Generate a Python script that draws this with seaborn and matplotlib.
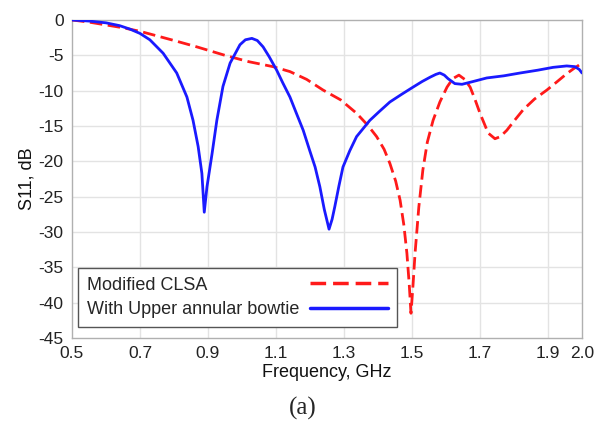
import numpy as np
import pandas as pd
import matplotlib
matplotlib.use("Agg")
import matplotlib.pyplot as plt
import seaborn as sns
from matplotlib.ticker import MultipleLocator, FixedLocator

blue_f = [0.50, 0.55, 0.60, 0.64, 0.671, 0.70, 0.729, 0.768, 0.808, 0.838, 0.856, 0.871, 0.882,
          0.889, 0.897, 0.912, 0.926, 0.944, 0.965, 0.994, 1.01, 1.029, 1.045, 1.062, 1.08,
          1.102, 1.12, 1.141, 1.16, 1.18, 1.20, 1.215, 1.229, 1.242, 1.256, 1.265, 1.273, 1.285,
          1.297, 1.317, 1.337, 1.376, 1.405, 1.435, 1.47, 1.503, 1.53, 1.553, 1.57, 1.582, 1.595,
          1.606, 1.626, 1.647, 1.68, 1.72, 1.77, 1.818, 1.87, 1.915, 1.955, 1.979, 1.992, 2.0]
blue_db = [0, -0.15, -0.4, -0.8, -1.3, -1.9, -2.8, -4.7, -7.5, -10.9, -14.2, -17.9, -21.7,
           -27.2, -23.6, -18.9, -14.2, -9.4, -6.1, -3.5, -2.8, -2.6, -2.9, -3.8, -5.2,
           -7.1, -8.9, -10.9, -13.2, -15.6, -18.6, -20.8, -23.6, -26.8, -29.6, -28.2, -26.4, -23.5,
           -20.8, -18.5, -16.5, -14.2, -12.9, -11.6, -10.5, -9.5, -8.7, -8.1, -7.7, -7.5, -7.8,
           -8.3, -9.0, -9.1, -8.7, -8.2, -7.9, -7.5, -7.1, -6.7, -6.5, -6.6, -7.0, -7.5]

red_f = [0.50, 0.55, 0.60, 0.65, 0.70, 0.80, 0.867, 0.95, 1.02, 1.091, 1.141, 1.19, 1.238,
         1.29, 1.337, 1.37, 1.396, 1.418, 1.435, 1.452, 1.465, 1.476, 1.485, 1.492, 1.497,
         1.503, 1.509, 1.52, 1.532, 1.545, 1.562, 1.582, 1.603, 1.62, 1.638, 1.655, 1.671,
         1.685, 1.70, 1.724, 1.744, 1.76, 1.779, 1.80, 1.827, 1.86, 1.897, 1.925, 1.955, 1.975,
         2.0]
red_db = [0, -0.3, -0.7, -1.1, -1.6, -2.9, -3.8, -5.0, -5.9, -6.6, -7.3, -8.4, -9.9,
          -11.3, -13.2, -14.9, -16.5, -18.3, -20.3, -22.8, -25.5, -29, -33, -37.5, -41.5,
          -37.5, -33, -26.5, -21.2, -17.3, -14.2, -11.6, -9.5, -8.3, -7.8, -8.4, -9.5,
          -11.2, -13.2, -16.0, -16.8, -16.5, -15.6, -14.3, -12.7, -11.2, -9.9, -8.8, -7.6, -6.9,
          -6.1]

labels = ["Modified CLSA", "With Upper annular bowtie"]
x_ticks = [0.5, 0.7, 0.9, 1.1, 1.3, 1.5, 1.7, 1.9, 2.0]
x_tick_labels = ["0.5", "0.7", "0.9", "1.1", "1.3", "1.5", "1.7", "1.9", "2.0"]
y_ticks = [0, -5, -10, -15, -20, -25, -30, -35, -40, -45]

sns.set_style("white")
plt.rcParams['font.family'] = ['Liberation Sans', 'DejaVu Sans']
plt.rcParams['axes.unicode_minus'] = False

fig = plt.figure(figsize=(5.98, 4.28), dpi=100)
ax = fig.add_axes([72/598, 90/428, 510/598, 318/428])

red_df = pd.DataFrame({"f": red_f, "db": red_db})
blue_df = pd.DataFrame({"f": blue_f, "db": blue_db})
sns.lineplot(data=red_df, x="f", y="db", ax=ax, color="#ff1a1a", lw=2.0,
             label=labels[0], zorder=3)
sns.lineplot(data=blue_df, x="f", y="db", ax=ax, color="#1a1aff", lw=2.0,
             label=labels[1], zorder=4)
ax.lines[0].set_dashes([4.5, 2.0])
ax.lines[0].set_solid_joinstyle("round")
ax.lines[1].set_solid_joinstyle("round")

ax.set_xlim(0.5, 2.0)
ax.set_ylim(-45, 0)
ax.xaxis.set_major_locator(FixedLocator(x_ticks))
ax.set_xticklabels(x_tick_labels)
ax.xaxis.set_minor_locator(FixedLocator([0.6, 0.8, 1.0, 1.2, 1.4, 1.6, 1.8]))
ax.yaxis.set_major_locator(FixedLocator(y_ticks))
ax.yaxis.set_minor_locator(MultipleLocator(1))

for xv in [0.7, 0.9, 1.1, 1.3, 1.5, 1.7, 1.9]:
    ax.axvline(xv, color="#e3e3e3", lw=1.0, zorder=1)
for yv in y_ticks[1:-1]:
    ax.axhline(yv, color="#e3e3e3", lw=1.0, zorder=1)

ax.tick_params(axis="both", which="major", direction="out", length=5, width=1,
               color="#a0a0a0", labelsize=12.5, labelcolor="#222222", pad=1)
ax.tick_params(axis="both", which="minor", direction="out", length=3, width=0.8,
               color="#b0b0b0")
for s in ax.spines.values():
    s.set_color("#b0b0b0")
    s.set_linewidth(1.0)

ax.set_xlabel("Frequency, GHz", fontsize=13, labelpad=2, color="#111111")
ax.set_ylabel("S11, dB", fontsize=13, labelpad=2, color="#111111")

leg = ax.legend(loc="lower left", bbox_to_anchor=(0.0118, 0.0346), markerfirst=False,
                fancybox=False, framealpha=1, edgecolor="#555555", fontsize=13,
                handlelength=4.3, handletextpad=0.6, borderpad=0.5, labelspacing=0.4,
                borderaxespad=0)
leg.get_frame().set_linewidth(1.0)
for ln in leg.get_lines():
    ln.set_linewidth(2.5)

# left-align legend labels while keeping handles at the right
fig.canvas.draw()
renderer = fig.canvas.get_renderer()
col = leg._legend_handle_box.get_children()[0]
entries = col.get_children()
wmax = max(e.get_bbox(renderer).width for e in entries)
col.width = wmax
for e in entries:
    e.mode = "expand"

fig.text(303/598, 1 - 408/428, "(a)", family=["Liberation Serif", "DejaVu Serif"],
         fontsize=18, ha="center", va="center")

fig.savefig("out.png", dpi=100)
